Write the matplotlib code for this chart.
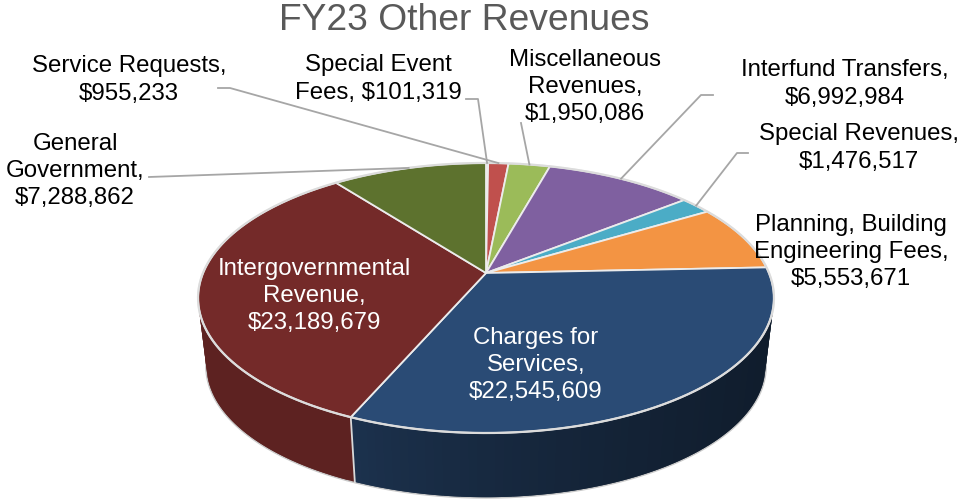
import numpy as np
import matplotlib
matplotlib.use('Agg')
import matplotlib.pyplot as plt
from matplotlib.colors import to_rgb

plt.rcParams['font.family'] = ['Liberation Sans', 'DejaVu Sans']

# slices run clockwise from 12 o'clock
names = ['Special Event\nFees', 'Service Requests', 'Miscellaneous\nRevenues', 'Interfund Transfers',
         'Special Revenues', 'Planning, Building\nEngineering Fees', 'Charges for\nServices',
         'Intergovernmental\nRevenue', 'General\nGovernment']
values = [101319, 955233, 1950086, 6992984, 1476517, 5553671, 22545609, 23189679, 7288862]
colors = ['#4f81bd', '#c0504d', '#9bbb59', '#7f60a0', '#4bacc6', '#f39443', '#2a4b75', '#742a29', '#5d722e']

label_x = [378, 129, 585, 845, 859, 851, 536, 314, 75]
label_y = [79, 80, 87, 84, 148, 252, 365, 296, 171]
label_seps = [', ', ',\n', ',\n', ',\n', ',\n', ',\n', ',\n', ',\n', ',\n']
label_colors = ['black', 'black', 'black', 'black', 'black', 'black', 'white', 'white', 'black']
# leader start and elbow for the outside labels, None = no leader
leader_pts = [[(466, 99), (478, 99)], [(218, 88), (230, 88)], [(521, 123)], [(713, 95), (701, 95)],
              [(748, 153), (737, 153)], None, None, None, [(149, 177)]]

# pie geometry in pixels
cx, cy = 486, 273
rx, ry = 283, 130.4
k = 0.185
bottom_cy = 342
bottom_scale = 0.97


def project(theta, top=True):
    X = np.sin(theta)
    Y = np.cos(theta)
    w = 1 + k * Y
    if top:
        return cx + rx * X / w, cy - ry * Y / w
    return cx + bottom_scale * rx * X / w, bottom_cy - bottom_scale * ry * Y / w


def side_shade(theta):
    # darker toward the right hand side, like the lit 3d rim
    deg = np.degrees(theta)
    if deg < 203.5:
        return 0.38 + 0.28 * np.clip((deg - 100) / 103.5, 0, 1) ** 2
    return 0.8


fig = plt.figure(figsize=(9.6, 5), dpi=100)
ax = fig.add_axes([0, 0, 1, 1])
ax.set_xlim(0, 960)
ax.set_ylim(500, 0)
ax.axis('off')

fractions = np.array(values) / sum(values)
edges = np.concatenate([[0], np.cumsum(fractions)]) * 2 * np.pi

# outer silhouette of the body
t = np.linspace(np.pi * 0.45, np.pi * 1.6, 300)
bx, by = project(t, top=False)
ax.plot(bx, by, color='#c9c9c9', lw=2.2, zorder=1)

# side wall, strips overlap the next one so no seams show
for i in range(len(values)):
    steps = np.linspace(edges[i], edges[i + 1], max(2, int((edges[i + 1] - edges[i]) * 40)))
    base = np.array(to_rgb(colors[i]))
    for j in range(len(steps) - 1):
        t_arc = np.linspace(steps[j], steps[min(j + 2, len(steps) - 1)], 8)
        up_x, up_y = project(t_arc)
        low_x, low_y = project(t_arc[::-1], top=False)
        c = base * side_shade((steps[j] + steps[j + 1]) / 2)
        ax.fill(np.concatenate([up_x, low_x]), np.concatenate([up_y, low_y]), color=c, lw=0, zorder=2)
    x1, y1 = project(edges[i])
    x2, y2 = project(edges[i], top=False)
    if y1 > cy + 100:
        ax.plot([x1, x2], [y1, y2], color='#d9d9d9', lw=1.3, zorder=3)

# top face
for i in range(len(values)):
    t = np.linspace(edges[i], edges[i + 1], 120)
    x, y = project(t)
    ax.fill(np.concatenate([[cx], x]), np.concatenate([[cy], y]), facecolor=colors[i],
            edgecolor='#ececec', lw=1.3, joinstyle='round', zorder=4)

t = np.linspace(0, 2 * np.pi, 400)
x, y = project(t)
ax.plot(x, y, color='#dcdcdc', lw=1.6, zorder=5)

# leaders end on the rim at the middle of each slice
for i in range(len(values)):
    if leader_pts[i] is None:
        continue
    end = project((edges[i] + edges[i + 1]) / 2)
    pts = leader_pts[i] + [end]
    ax.plot([p[0] for p in pts], [p[1] for p in pts], color='#a6a6a6', lw=1.3, zorder=6)

for i in range(len(values)):
    ax.text(label_x[i], label_y[i], names[i] + label_seps[i] + '$' + format(values[i], ','),
            color=label_colors[i], fontsize=17.3, ha='center', va='center', linespacing=1.3, zorder=7)

ax.text(464, 20, 'FY23 Other Revenues', color='#595959', fontsize=26.8, ha='center', va='center')

plt.savefig('out.png', dpi=100)
